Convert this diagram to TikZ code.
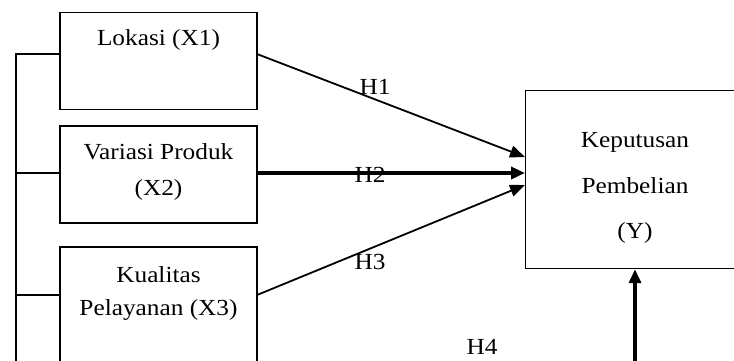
\documentclass[tikz,border=0pt]{standalone}
\usepackage{fontspec}
\setmainfont[FakeStretch=1.1]{Liberation Serif}
\usetikzlibrary{arrows.meta}
\begin{document}
\begin{tikzpicture}[x=1pt,y=-1pt,
  box/.style={draw,line width=1.2pt,minimum width=197pt,minimum height=97pt,inner sep=0pt},
  lbl/.style={font=\fontsize{23}{26}\selectfont,inner sep=0pt},
  bline/.style={line width=1.3pt},
  arr/.style={line width=1.8pt,-{Triangle[length=15pt,width=12pt]}},
  thick arr/.style={line width=4pt,-{Triangle[length=14pt,width=12pt]}}]
\useasboundingbox (0,0) rectangle (734,360);
\clip (0,0) rectangle (734,360);
% boxes
\node[box] (x1) at (158.5,61) {};
\node[box] (x2) at (158.5,174.5) {};
\node[box,minimum height=140pt] (x3) at (158.5,317) {};
\node[draw,line width=1.2pt,minimum width=240pt,minimum height=178pt,inner sep=0pt,anchor=north west] (y) at (525,90) {};
% texts
\node[lbl] (t1) at (158.5,40) {Lokasi (X1)};
\node[lbl] (t2a) at (158.5,152) {Variasi Produk};
\node[lbl] (t2b) at (158.5,190) {(X2)};
\node[lbl] (t3a) at (158.5,275) {Kualitas};
\node[lbl] (t3b) at (158.5,310) {Pelayanan (X3)};
\node[lbl] (ya) at (635,142) {Keputusan};
\node[lbl] (yb) at (635,186) {Pembelian};
\node[lbl] (yc) at (635,233) {(Y)};
% left bracket
\coordinate (lt) at (16,54);
\coordinate (lb) at (16,365);
\coordinate (l2) at (16,173);
\coordinate (l3) at (16,295);
\draw[bline] (lb) -- (lt) -- (x1.west |- lt);
\draw[bline] (l2) -- (x2.west |- l2);
\draw[bline] (l3) -- (x3.west |- l3);
% arrows
\coordinate (a1s) at (257,54);
\coordinate (a1e) at (525,157);
\coordinate (a3s) at (257,295);
\coordinate (a3e) at (525,185);
\coordinate (a2e) at (525,173);
\coordinate (a4s) at (635,365);
\draw[arr] (a1s) -- (a1e);
\draw[arr] (a3s) -- (a3e);
\draw[thick arr] (x2.east |- a2e) -- (a2e);
\draw[thick arr] (a4s) -- (y.south -| a4s);
% hypothesis labels
\node[lbl] (h1) at (375,87) {H1};
\node[lbl] (h2) at (370,175) {H2};
\node[lbl] (h3) at (370,262) {H3};
\node[lbl] (h4) at (482,347) {H4};
\end{tikzpicture}
\end{document}
